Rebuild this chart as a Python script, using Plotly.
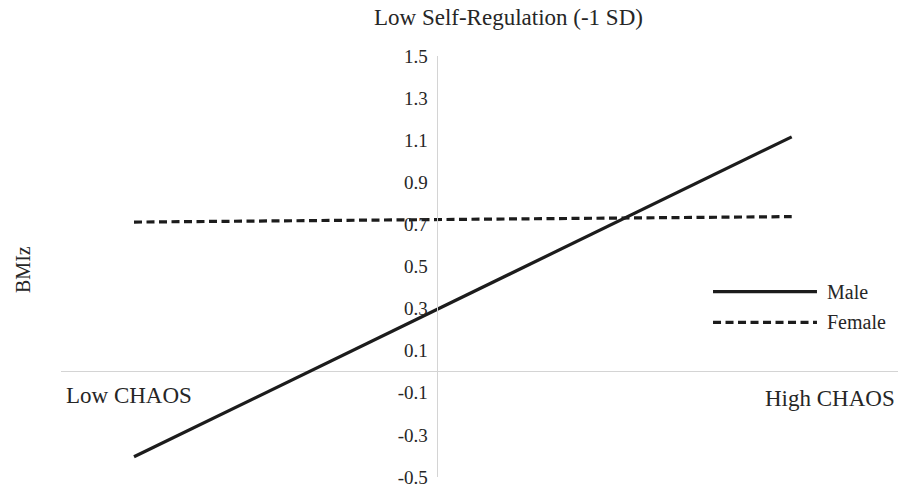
import plotly.graph_objects as go

# Simple-slopes data: predicted BMIz at low and high CHAOS, by sex
chaos_levels = ["Low CHAOS", "High CHAOS"]
male_bmiz = [-0.404, 1.116]
female_bmiz = [0.711, 0.737]
series_names = ["Male", "Female"]
y_ticks = [-0.5, -0.3, -0.1, 0.1, 0.3, 0.5, 0.7, 0.9, 1.1, 1.3, 1.5]

FONT = "Liberation Serif"
TEXT = "#262626"
INK = "#1c1c1c"
GRID = "#d4d4d4"

styles = {
    "Male": dict(color=INK, width=3.2, dash="solid"),
    "Female": dict(color=INK, width=3.2, dash="8px,4.5px"),
}

x_idx = list(range(len(chaos_levels)))
fig = go.Figure()
for name, vals in zip(series_names, [male_bmiz, female_bmiz]):
    fig.add_trace(go.Scatter(
        x=x_idx, y=vals, mode="lines", name=name,
        line=styles[name], showlegend=False, hoverinfo="skip",
    ))

fig.update_layout(
    width=898, height=488,
    margin=dict(l=61, r=0, t=56, b=11),
    paper_bgcolor="white", plot_bgcolor="white",
    font=dict(family=FONT, color=TEXT),
    xaxis=dict(range=[-0.111, 1.1616], visible=False, showgrid=False,
               zeroline=False),
    yaxis=dict(
        range=[-0.5, 1.5], anchor="free", position=0.4489,
        tickvals=y_ticks, ticktext=[f"{v:.1f}" for v in y_ticks],
        showgrid=False, showline=True, linecolor=GRID, linewidth=1.3,
        zeroline=True, zerolinecolor=GRID, zerolinewidth=1.3,
        ticks="", ticklabelstandoff=5,
        tickfont=dict(family=FONT, size=19, color=TEXT),
    ),
)

ann = [
    dict(text="Low Self-Regulation (-1 SD)", x=0.5345, y=1.0903,
         xanchor="center", yanchor="middle", font=dict(size=23)),
    dict(text="BMIz", x=-0.0454, y=0.4917, textangle=-90,
         xanchor="center", yanchor="middle", font=dict(size=20)),
    dict(text=chaos_levels[0], x=0.0030, y=0.1924,
         xanchor="left", yanchor="middle", font=dict(size=23)),
    dict(text=chaos_levels[1], x=0.9994, y=0.1876,
         xanchor="right", yanchor="middle", font=dict(size=23)),
]

# Legend key drawn with long sample lines
legend_rows = [("Male", 0.4401), ("Female", 0.3675)]
for name, ly in legend_rows:
    st = styles[name]
    fig.add_shape(type="line", xref="paper", yref="paper",
                  x0=0.779, x1=0.9032, y0=ly, y1=ly,
                  line=dict(color=st["color"], width=st["width"],
                            dash=st["dash"]))
    ann.append(dict(text=name, x=0.9128, y=ly, xanchor="left",
                    yanchor="middle", font=dict(size=20)))

for a in ann:
    a.update(xref="paper", yref="paper", showarrow=False)
    a["font"] = dict(family=FONT, color=TEXT, **a["font"])
fig.update_layout(annotations=ann)

fig.write_html("out.html")
